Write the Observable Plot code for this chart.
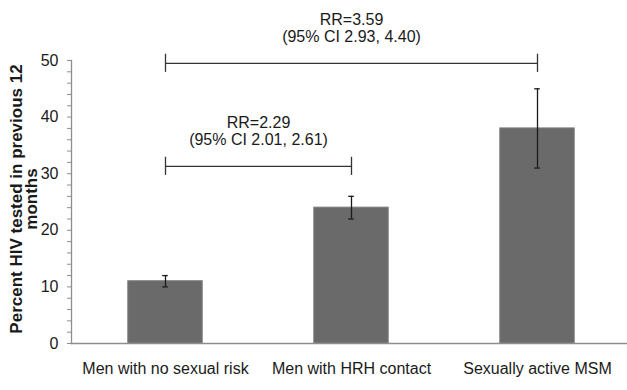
<!DOCTYPE html>
<html>
<head>
<meta charset="utf-8">
<script src="https://cdn.jsdelivr.net/npm/d3@7"></script>
<script src="https://cdn.jsdelivr.net/npm/@observablehq/plot@0.6"></script>
<style>
  html, body { margin: 0; padding: 0; background: #fff; }
  #chart { width: 627px; height: 390px; }
</style>
</head>
<body>
<div id="chart"></div>
<script>
// Groups compared and the share of each tested for HIV in the previous 12 months
const groups = ["Men with no sexual risk", "Men with HRH contact", "Sexually active MSM"];
const percentTested = [11, 24, 38];
const ciLow = [10, 22, 31];
const ciHigh = [12, 26, 45];

// Rate-ratio comparisons against the no-risk group
const compareFrom = [0, 0];
const compareTo = [1, 2];
const bracketLevel = [31.3, 49.5];
const rateRatio = ["2.29", "3.59"];
const rateCI = ["2.01, 2.61", "2.93, 4.40"];

const yTicks = d3.range(0, 51, 2);
const yLabel = "Percent HIV tested in previous 12\nmonths";

const rows = groups.map((g, i) => ({i, group: g, pct: percentTested[i], lo: ciLow[i], hi: ciHigh[i]}));
const comps = compareFrom.map((f, k) => ({
  from: f,
  to: compareTo[k],
  mid: (f + compareTo[k]) / 2,
  level: bracketLevel[k],
  label: `RR=${rateRatio[k]}\n(95% CI ${rateCI[k]})`
}));

const font = "Liberation Sans, Arial, Helvetica, sans-serif";
const ink = "#1a1a1a";
const halfBar = 0.2;   // bar half-width, in category units
const capHalf = 0.015; // error-bar cap half-width
const endHalf = 1.6;   // bracket end-tick half-height, in percent units

const chart = Plot.plot({
  width: 627,
  height: 390,
  marginLeft: 71,
  marginRight: 0,
  marginTop: 60,
  marginBottom: 47,
  style: {fontFamily: font, fontSize: "16px", color: ink, background: "#fff"},
  x: {type: "linear", domain: [-0.5, 2.5], range: [72, 630]},
  y: {domain: [0, 50]},
  marks: [
    Plot.rectY(rows, {x1: d => d.i - halfBar, x2: d => d.i + halfBar, y1: 0, y2: "pct", fill: "#6a6a6a", stroke: "#7d7d7d", strokeWidth: 1}),
    Plot.ruleY([0], {stroke: "#8e8e8e", strokeWidth: 1.3}),
    Plot.frame({anchor: "left", stroke: "#8e8e8e", strokeWidth: 1.3}),
    Plot.axisY({ticks: yTicks, tickSize: 4, tickPadding: 9, stroke: "#8e8e8e", fill: ink, fontSize: 16,
      tickFormat: d => (d % 10 === 0 ? String(d) : ""), label: null}),
    Plot.axisX({ticks: [0, 1, 2], tickSize: 0, tickPadding: 19, fill: ink, fontSize: 16,
      tickFormat: i => groups[i], label: null}),
    // 95% CI error bars
    Plot.ruleX(rows, {x: "i", y1: "lo", y2: "hi", stroke: ink, strokeWidth: 1.3}),
    Plot.ruleY(rows, {y: "lo", x1: d => d.i - capHalf, x2: d => d.i + capHalf, stroke: ink, strokeWidth: 1.3}),
    Plot.ruleY(rows, {y: "hi", x1: d => d.i - capHalf, x2: d => d.i + capHalf, stroke: ink, strokeWidth: 1.3}),
    // comparison brackets
    Plot.ruleY(comps, {y: "level", x1: "from", x2: "to", stroke: "#333", strokeWidth: 1.3}),
    Plot.ruleX(comps, {x: "from", y1: d => d.level - endHalf, y2: d => d.level + endHalf, stroke: "#333", strokeWidth: 1.3}),
    Plot.ruleX(comps, {x: "to", y1: d => d.level - endHalf, y2: d => d.level + endHalf, stroke: "#333", strokeWidth: 1.3}),
    Plot.text(comps, {x: "mid", y: "level", text: "label", lineAnchor: "bottom", lineHeight: 1.06, dy: -21, fontSize: 16, fill: ink}),
    // y-axis title
    Plot.text([yLabel], {frameAnchor: "left", textAnchor: "middle", rotate: -90, dx: -47, dy: -3,
      lineAnchor: "middle", lineHeight: 0.9, fontSize: 17, fontWeight: "bold", fill: ink})
  ]
});

document.getElementById("chart").appendChild(chart);
</script>
</body>
</html>
